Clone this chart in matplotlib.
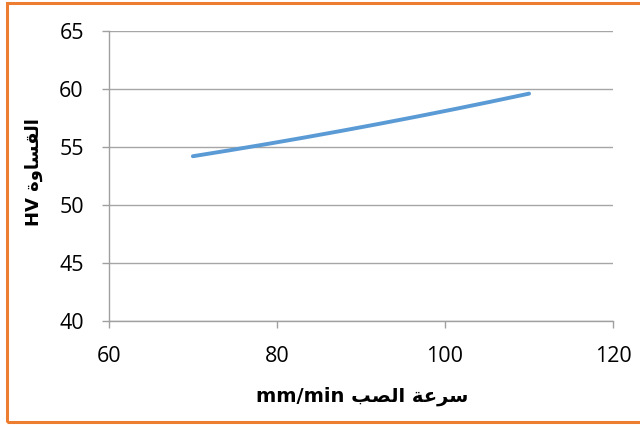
import numpy as np
import matplotlib
matplotlib.use("Agg")
import matplotlib.pyplot as plt
from matplotlib.patches import Rectangle

# Pouring speed (mm/min) vs hardness (HV)
speed = [70, 90, 110]
hardness = [54.2, 56.7, 59.6]
x_ticks = [60, 80, 100, 120]
y_ticks = [40, 45, 50, 55, 60, 65]

# Arabic labels written in presentation forms, visual (left-to-right) order,
# because matplotlib does not shape or reorder Arabic text itself.
x_label = "mm/min \ufe90\ufebc\ufedf\ufe8d \ufe94\ufecb\ufeae\ufeb3"   # سرعة الصب
y_label = "HV \ufe93\ufeed\ufe8e\ufeb4\ufed8\ufedf\ufe8d"               # القساوة

plt.rcParams["font.family"] = ["Open Sans", "DejaVu Sans"]

fig = plt.figure(figsize=(6.4, 4.25), dpi=100)
ax = fig.add_axes([0.170, 0.245, 0.788, 0.682])

# smooth curve through the measured points
coef = np.polyfit(speed, hardness, 2)
xs = np.linspace(speed[0], speed[-1], 200)
ax.plot(xs, np.polyval(coef, xs), color="#5B9BD5", lw=2.8,
        solid_capstyle="round", zorder=3)

ax.set_xlim(60, 120)
ax.set_ylim(40, 65)
ax.set_xticks(x_ticks)
ax.set_yticks(y_ticks)
ax.tick_params(axis="both", labelsize=15.5, color="#a0a0a0", length=5,
               width=1, direction="out", labelcolor="black")
ax.tick_params(axis="y", pad=13)
ax.tick_params(axis="x", pad=13)
ax.grid(axis="y", color="#a6a6a6", lw=1)
ax.set_axisbelow(True)
for s in ("top", "right"):
    ax.spines[s].set_visible(False)
for s in ("left", "bottom"):
    ax.spines[s].set_color("#a0a0a0")
    ax.spines[s].set_linewidth(1)

fig.text(0.566, 0.068, x_label, ha="center", va="center", fontsize=14,
         fontweight="bold", family=["DejaVu Sans"])
fig.text(0.053, 0.595, y_label, ha="center", va="center", fontsize=13,
         fontweight="bold", rotation=90, family=["DejaVu Sans"])

# orange chart-area border
fig.patches.append(Rectangle((0.011, 0.006), 1.2, 0.988, transform=fig.transFigure,
                             fill=False, edgecolor="#ED7D31", lw=2.2))

fig.savefig("out.png", dpi=100, facecolor="white")
